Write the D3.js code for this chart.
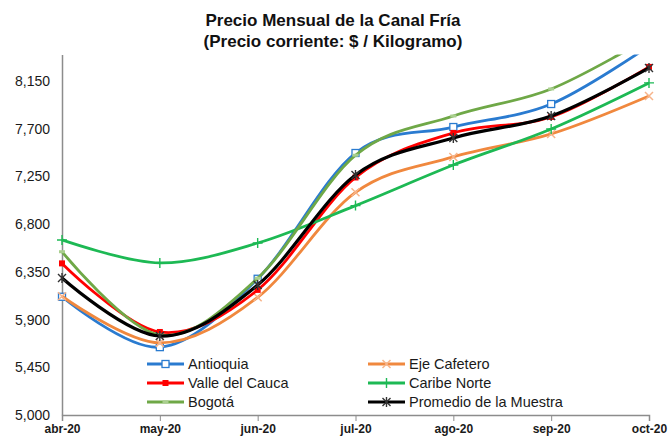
<!DOCTYPE html>
<html><head><meta charset="utf-8">
<script src="https://cdn.jsdelivr.net/npm/d3@7"></script>
<style>
html,body{margin:0;padding:0;background:#fff;}
svg{display:block;font-family:"Liberation Sans",Arial,sans-serif;}
</style></head>
<body><svg id="c" width="668" height="436"></svg>
<script>
const months = ["abr-20","may-20","jun-20","jul-20","ago-20","sep-20","oct-20"];
const yTicks = [5000,5450,5900,6350,6800,7250,7700,8150];
const antioquia   = [6115,5640,6285,7471,7716,7933,8480];
const ejeCafetero = [6120,5680,6110,7100,7434,7651,8009];
const valleCauca  = [6430,5783,6180,7240,7660,7811,8283];
const caribeNorte = [6651,6434,6622,6975,7358,7698,8132];
const bogota      = [6540,5755,6290,7450,7820,8075,8560];
const promedio    = [6292,5745,6226,7264,7613,7820,8273];
const seriesNames = ["Antioquia","Eje Cafetero","Valle del Cauca","Caribe Norte","Bogotá","Promedio de la Muestra"];

const styles = [
  {color:"#2a7bd0", marker:"square"},
  {color:"#f0883e", marker:"x"},
  {color:"#ff0000", marker:"smallsq"},
  {color:"#1db954", marker:"plus"},
  {color:"#6fa847", marker:"dash"},
  {color:"#000000", marker:"star"}
];
const values = [antioquia, ejeCafetero, valleCauca, caribeNorte, bogota, promedio];
const series = seriesNames.map((n,i)=>({name:n, values:values[i], ...styles[i]}));

const svg = d3.select("#c");
const pLeft=62, pRight=649, pTop=54.5, pBottom=415;
const x = d3.scalePoint().domain(months).range([pLeft,pRight]);
const y = d3.scaleLinear().domain([5000,8400]).range([pBottom,pTop]);

// title
const title = svg.append("text").attr("text-anchor","middle").attr("font-weight","bold")
  .attr("font-size",17).attr("fill","#111");
title.append("tspan").attr("x",333).attr("y",26).text("Precio Mensual de la Canal Fría");
title.append("tspan").attr("x",333).attr("y",47).text("(Precio corriente: $ / Kilogramo)");

// axes
const yAxis = d3.axisLeft(y).tickValues(yTicks).tickSize(0).tickPadding(12).tickFormat(d3.format(","));
const gy = svg.append("g").attr("transform",`translate(${pLeft},0)`).call(yAxis);
gy.select(".domain").attr("stroke","#8c8c8c").attr("stroke-width",1.5);
gy.selectAll("text").attr("font-size",14).attr("fill","#1a1a1a").attr("font-family","'Liberation Sans',Arial,sans-serif");

const xAxis = d3.axisBottom(x).tickSize(6).tickPadding(3);
const gx = svg.append("g").attr("transform",`translate(0,${pBottom})`).call(xAxis);
gx.select(".domain").attr("stroke","#8c8c8c").attr("stroke-width",1.5);
gx.selectAll(".tick line").attr("stroke","#8c8c8c");
gx.selectAll("text").attr("font-size",12).attr("font-weight","bold").attr("fill","#1a1a1a").attr("font-family","'Liberation Sans',Arial,sans-serif");

// clip
svg.append("clipPath").attr("id","clip").append("rect")
  .attr("x",pLeft-8).attr("y",pTop).attr("width",pRight-pLeft+20).attr("height",pBottom-pTop+8);

const line = d3.line().x((d,i)=>x(months[i])).y(d=>y(d)).curve(d3.curveCardinal.tension(0));

function drawMarker(g, type, color, cx, cy){
  switch(type){
    case "square":
      g.append("rect").attr("x",cx-3.5).attr("y",cy-3.5).attr("width",7).attr("height",7)
        .attr("fill","#fff").attr("stroke",color).attr("stroke-width",1.3); break;
    case "smallsq":
      g.append("rect").attr("x",cx-3).attr("y",cy-3).attr("width",6).attr("height",6).attr("fill",color); break;
    case "x":
      g.append("path").attr("d",`M${cx-4},${cy-4}L${cx+4},${cy+4}M${cx-4},${cy+4}L${cx+4},${cy-4}`)
        .attr("stroke","#f7b48a").attr("stroke-width",1.5); break;
    case "plus":
      g.append("path").attr("d",`M${cx-5},${cy}L${cx+5},${cy}M${cx},${cy-5}L${cx},${cy+5}`)
        .attr("stroke",color).attr("stroke-width",1.4); break;
    case "dash":
      g.append("rect").attr("x",cx-3).attr("y",cy-1.5).attr("width",6).attr("height",3).attr("fill","#a9cf8e"); break;
    case "star":
      g.append("path").attr("d",`M${cx-4},${cy-4}L${cx+4},${cy+4}M${cx-4},${cy+4}L${cx+4},${cy-4}M${cx},${cy-5}L${cx},${cy+5}`)
        .attr("stroke","#333").attr("stroke-width",1.4); break;
  }
}

const plot = svg.append("g").attr("clip-path","url(#clip)");
series.forEach(s=>{
  plot.append("path").datum(s.values).attr("d",line).attr("fill","none")
    .attr("stroke",s.color).attr("stroke-width",s.name.startsWith("Promedio")?3.2:2.8);
  const mg = plot.append("g");
  s.values.forEach((v,i)=>drawMarker(mg,s.marker,s.color,x(months[i]),y(v)));
});

// legend
const legend = svg.append("g");
const lx = [147,368], ly=[364,383,402];
series.forEach((s,i)=>{
  const col=i%2, row=Math.floor(i/2);
  const g = legend.append("g");
  const x0=lx[col], yy=ly[row];
  g.append("line").attr("x1",x0).attr("x2",x0+37).attr("y1",yy).attr("y2",yy)
    .attr("stroke",s.color).attr("stroke-width",3);
  drawMarker(g,s.marker,s.color,x0+18.5,yy);
  g.append("text").attr("x",x0+41).attr("y",yy+5).attr("font-size",14.5).attr("fill","#1a1a1a").text(s.name);
});
</script></body></html>
